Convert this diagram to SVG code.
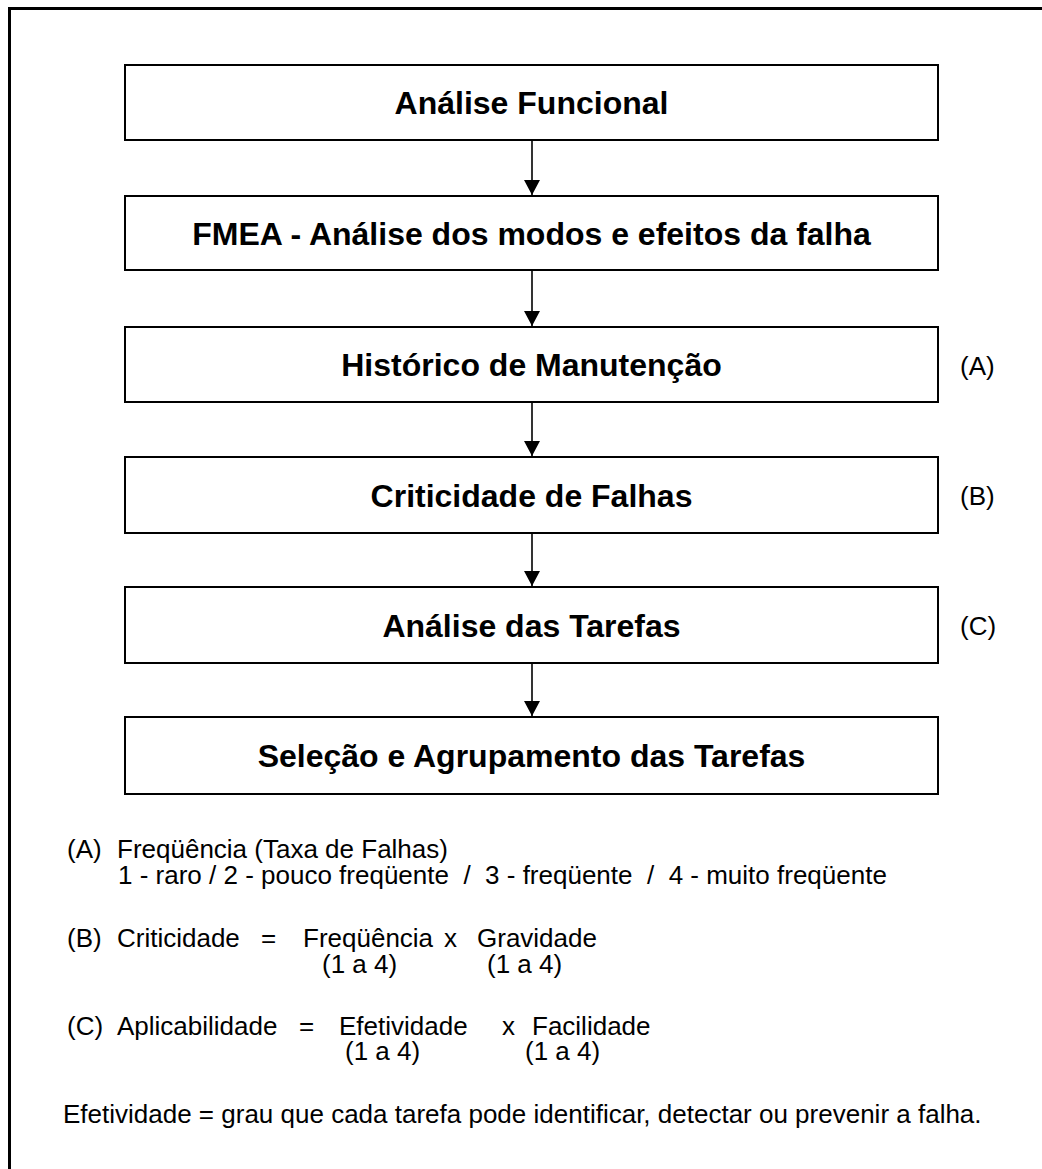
<svg xmlns="http://www.w3.org/2000/svg" width="1042" height="1169" viewBox="0 0 1042 1169">
<defs>
<style>
.box{fill:#fff;stroke:#000;stroke-width:2}
.t{font-family:"Liberation Sans",Arial,sans-serif;font-weight:bold;font-size:32px;text-anchor:middle;fill:#000}
.n{font-family:"Liberation Sans",Arial,sans-serif;font-size:26px;fill:#000}
.c{stroke:#000;stroke-width:1.6;fill:none}
</style>
<marker id="ah" markerWidth="15" markerHeight="16" refX="15" refY="8" orient="auto" markerUnits="userSpaceOnUse"><path d="M0,0 L15,8 L0,16 z" fill="#000"/></marker>
</defs>
<rect width="1042" height="1169" fill="#fff"/>
<path d="M9.5,1169 V8.5 H1042" fill="none" stroke="#000" stroke-width="3"/>
<g id="n1"><rect class="box" x="125" y="65" width="813" height="75"/><text class="t" x="531.5" y="114">Análise Funcional</text></g>
<g id="n2"><rect class="box" x="125" y="196" width="813" height="74"/><text class="t" x="531.5" y="245">FMEA - Análise dos modos e efeitos da falha</text></g>
<g id="n3"><rect class="box" x="125" y="327" width="813" height="75"/><text class="t" x="531.5" y="376">Histórico de Manutenção</text></g>
<g id="n4"><rect class="box" x="125" y="457" width="813" height="76"/><text class="t" x="531.5" y="507">Criticidade de Falhas</text></g>
<g id="n5"><rect class="box" x="125" y="587" width="813" height="76"/><text class="t" x="531.5" y="637">Análise das Tarefas</text></g>
<g id="n6"><rect class="box" x="125" y="717" width="813" height="77"/><text class="t" x="531.5" y="767">Seleção e Agrupamento das Tarefas</text></g>
<g id="connectors">
<line class="c" x1="532" y1="140" x2="532" y2="195" marker-end="url(#ah)"/>
<line class="c" x1="532" y1="270" x2="532" y2="326" marker-end="url(#ah)"/>
<line class="c" x1="532" y1="402" x2="532" y2="456" marker-end="url(#ah)"/>
<line class="c" x1="532" y1="533" x2="532" y2="586" marker-end="url(#ah)"/>
<line class="c" x1="532" y1="663" x2="532" y2="716" marker-end="url(#ah)"/>
</g>
<g id="side-labels">
<text class="n" x="960" y="375">(A)</text>
<text class="n" x="960" y="505">(B)</text>
<text class="n" x="960" y="635">(C)</text>
</g>
<g id="legend">
<text class="n" x="67" y="858">(A)</text>
<text class="n" x="117" y="858">Freqüência (Taxa de Falhas)</text>
<text class="n" x="118" y="884" xml:space="preserve">1 - raro / 2 - pouco freqüente  /  3 - freqüente  /  4 - muito freqüente</text>
<text class="n" x="67" y="947">(B)</text>
<text class="n" x="117" y="947">Criticidade</text>
<text class="n" x="261" y="947">=</text>
<text class="n" x="303" y="947">Freqüência</text>
<text class="n" x="444" y="947">x</text>
<text class="n" x="477" y="947">Gravidade</text>
<text class="n" x="322" y="973">(1 a 4)</text>
<text class="n" x="487" y="973">(1 a 4)</text>
<text class="n" x="67" y="1035">(C)</text>
<text class="n" x="117" y="1035">Aplicabilidade</text>
<text class="n" x="299" y="1035">=</text>
<text class="n" x="339" y="1035">Efetividade</text>
<text class="n" x="502" y="1035">x</text>
<text class="n" x="532" y="1035">Facilidade</text>
<text class="n" x="345" y="1060">(1 a 4)</text>
<text class="n" x="525" y="1060">(1 a 4)</text>
<text class="n" x="63" y="1123">Efetividade = grau que cada tarefa pode identificar, detectar ou prevenir a falha.</text>
</g>
</svg>
